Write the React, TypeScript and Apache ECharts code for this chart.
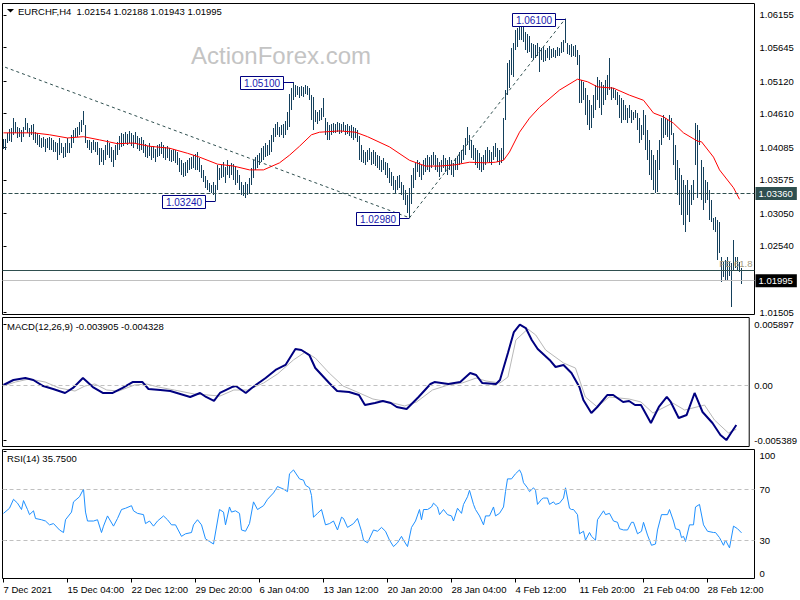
import React, { useEffect, useRef } from 'react';
import * as echarts from 'echarts';

const FONT = '"Liberation Sans", Arial, sans-serif';
const BAR = '#14405c';

const xLabels = ['7 Dec 2021', '15 Dec 04:00', '22 Dec 12:00', '29 Dec 20:00', '6 Jan 04:00', '13 Jan 12:00', '20 Jan 20:00', '28 Jan 04:00', '4 Feb 12:00', '11 Feb 20:00', '21 Feb 04:00', '28 Feb 12:00'];
const barsPerLabel = 32;
const priceTicks = [1.06155, 1.05645, 1.0512, 1.0461, 1.04085, 1.03575, 1.0305, 1.0254, 1.01505];
const macdTicks = [-0.005389, 0, 0.005897];
const rsiTicks = [0, 30, 70, 100];

const highs = [
  1.0421,1.0421,1.0431,1.0437,1.0439,1.0454,1.0448,1.0440,1.0439,1.0435,
  1.0440,1.0454,1.0446,1.0439,1.0443,1.0445,1.0432,1.0431,1.0428,1.0423,
  1.0425,1.0421,1.0423,1.0425,1.0423,1.0420,1.0417,1.0415,1.0423,1.0415,
  1.0409,1.0415,1.0423,1.0415,1.0428,1.0435,1.0439,1.0440,1.0448,1.0451,
  1.0465,1.0443,1.0420,1.0420,1.0417,1.0420,1.0417,1.0417,1.0407,
  1.0407,1.0404,1.0412,1.0420,1.0415,1.0409,1.0404,1.0412,1.0417,1.0426,
  1.0431,1.0429,1.0432,1.0429,1.0434,1.0431,1.0428,1.0432,1.0426,1.0423,
  1.0425,1.0420,1.0414,1.0410,1.0415,1.0409,1.0410,1.0406,1.0412,1.0414,
  1.0417,1.0412,1.0409,1.0410,1.0407,1.0404,1.0406,1.0404,1.0401,1.0392,
  1.0388,1.0384,1.0385,1.0388,1.0392,1.0393,1.0396,1.0398,1.0401,1.0392,
  1.0381,1.0373,1.0363,1.0357,1.0352,1.0349,1.0354,1.0349,1.0381,1.0376,
  1.0381,1.0385,1.0378,1.0388,1.0381,1.0384,1.0382,1.0379,1.0373,1.0365,
  1.0354,1.0349,1.0354,1.0351,1.0360,1.0376,1.0388,1.0393,1.0396,1.0399,
  1.0407,1.0410,1.0415,1.0412,1.0420,1.0428,1.0439,1.0445,1.0448,1.0440,
  1.0443,1.0445,1.0450,1.0464,1.0492,1.0501,1.0510,1.0506,1.0504,1.0503,
  1.0504,1.0503,1.0506,1.0504,1.0501,1.0490,1.0487,1.0467,1.0464,1.0467,
  1.0470,1.0486,1.0454,1.0448,1.0443,1.0445,1.0446,1.0445,1.0448,1.0446,
  1.0445,1.0448,1.0443,1.0445,1.0442,1.0443,1.0440,1.0439,1.0435,1.0426,
  1.0412,1.0404,1.0401,1.0404,1.0407,1.0401,1.0404,1.0401,1.0396,1.0395,
  1.0388,1.0392,1.0385,1.0384,1.0376,1.0370,1.0363,1.0357,1.0363,1.0365,
  1.0354,1.0349,1.0342,1.0334,1.0345,1.0365,1.0376,1.0384,1.0388,1.0385,
  1.0381,1.0388,1.0392,1.0396,1.0393,1.0396,1.0401,1.0396,1.0392,1.0385,
  1.0388,1.0396,1.0392,1.0388,1.0393,1.0388,1.0384,1.0392,1.0395,1.0401,
  1.0404,1.0412,1.0423,1.0440,1.0428,1.0420,1.0412,1.0407,1.0404,1.0399,
  1.0393,1.0396,1.0404,1.0409,1.0404,1.0401,1.0410,1.0415,1.0407,1.0404,
  1.0407,1.0454,1.0498,1.0540,1.0545,1.0564,1.0572,1.0592,1.0595,1.0598,
  1.0601,1.0603,1.0589,1.0586,1.0583,1.0572,1.0570,1.0569,1.0572,1.0565,
  1.0564,1.0565,1.0561,1.0564,1.0567,1.0562,1.0564,1.0561,1.0565,1.0564,
  1.0573,1.0576,1.0610,1.0572,1.0569,1.0570,1.0567,1.0569,1.0561,1.0553,
  1.0514,1.0511,1.0501,1.0490,1.0482,1.0475,1.0490,1.0506,1.0518,1.0514,
  1.0511,1.0506,1.0514,1.0522,1.0548,1.0503,1.0501,1.0498,1.0495,1.0490,
  1.0486,1.0482,1.0475,1.0470,1.0475,1.0467,1.0464,1.0467,1.0462,1.0454,
  1.0443,1.0467,1.0459,1.0435,1.0420,1.0404,1.0396,1.0388,1.0404,1.0420,
  1.0454,1.0459,1.0454,1.0451,1.0459,1.0454,1.0431,1.0412,1.0388,1.0376,
  1.0365,1.0357,1.0349,1.0357,1.0341,1.0349,1.0357,1.0446,1.0443,1.0435,
  1.0388,1.0377,1.0357,1.0354,1.0341,1.0326,1.0298,1.0299,1.0295,1.0291,
  1.0237,1.0229,1.0232,1.0237,1.0229,1.0227,1.0263,1.0237,1.0237,1.0229,1.02188,
];

const lows = [
  1.0406,1.0404,1.0415,1.0418,1.0417,1.0428,1.0431,1.0423,1.0425,1.0417,
  1.0425,1.0435,1.0431,1.0425,1.0428,1.0420,1.0415,1.0412,1.0409,1.0407,
  1.0409,1.0401,1.0407,1.0404,1.0404,1.0401,1.0401,1.0388,1.0396,1.0399,
  1.0392,1.0393,1.0399,1.0399,1.0407,1.0415,1.0425,1.0425,1.0428,1.0432,
  1.0443,1.0415,1.0407,1.0404,1.0399,1.0404,1.0401,1.0396,1.0381,
  1.0385,1.0381,1.0388,1.0396,1.0392,1.0385,1.0378,1.0388,1.0396,1.0404,
  1.0409,1.0410,1.0415,1.0412,1.0415,1.0410,1.0407,1.0414,1.0406,1.0403,
  1.0404,1.0399,1.0393,1.0392,1.0395,1.0388,1.0392,1.0385,1.0393,1.0395,
  1.0398,1.0392,1.0388,1.0392,1.0387,1.0385,1.0387,1.0384,1.0381,1.0370,
  1.0365,1.0362,1.0363,1.0368,1.0373,1.0374,1.0376,1.0373,1.0373,1.0370,
  1.0360,1.0354,1.0345,1.0342,1.0338,1.0337,1.0334,1.0324,1.0342,1.0357,
  1.0360,1.0362,1.0352,1.0365,1.0360,1.0365,1.0357,1.0349,1.0352,1.0342,
  1.0334,1.0332,1.0329,1.0334,1.0337,1.0349,1.0360,1.0373,1.0376,1.0381,
  1.0385,1.0388,1.0393,1.0395,1.0396,1.0401,1.0417,1.0425,1.0428,1.0425,
  1.0428,1.0423,1.0428,1.0435,1.0440,1.0467,1.0482,1.0487,1.0490,1.0486,
  1.0489,1.0487,1.0492,1.0490,1.0482,1.0451,1.0435,1.0448,1.0445,1.0450,
  1.0451,1.0456,1.0428,1.0420,1.0420,1.0428,1.0431,1.0431,1.0432,1.0429,
  1.0431,1.0434,1.0428,1.0429,1.0426,1.0423,1.0420,1.0423,1.0417,1.0388,
  1.0385,1.0384,1.0381,1.0385,1.0388,1.0381,1.0382,1.0379,1.0376,1.0373,
  1.0370,1.0373,1.0365,1.0360,1.0352,1.0348,1.0342,1.0337,1.0342,1.0345,
  1.0334,1.0326,1.0318,1.0305,1.0298,1.0320,1.0345,1.0357,1.0370,1.0362,
  1.0357,1.0365,1.0370,1.0373,1.0370,1.0376,1.0381,1.0373,1.0370,1.0362,
  1.0370,1.0376,1.0370,1.0365,1.0373,1.0365,1.0362,1.0373,1.0373,1.0381,
  1.0384,1.0388,1.0396,1.0412,1.0404,1.0392,1.0388,1.0381,1.0376,1.0373,
  1.0370,1.0373,1.0381,1.0385,1.0384,1.0381,1.0388,1.0393,1.0385,1.0381,
  1.0384,1.0388,1.0451,1.0490,1.0501,1.0522,1.0518,1.0561,1.0565,1.0576,
  1.0576,1.0573,1.0561,1.0556,1.0558,1.0548,1.0545,1.0548,1.0551,1.0526,
  1.0545,1.0542,1.0543,1.0548,1.0545,1.0548,1.0550,1.0548,1.0551,1.0551,
  1.0556,1.0558,1.0572,1.0554,1.0553,1.0550,1.0551,1.0550,1.0537,1.0478,
  1.0478,1.0482,1.0459,1.0443,1.0435,1.0439,1.0454,1.0467,1.0482,1.0470,
  1.0459,1.0475,1.0482,1.0490,1.0498,1.0482,1.0486,1.0482,1.0475,1.0454,
  1.0446,1.0451,1.0451,1.0446,1.0454,1.0446,1.0451,1.0454,1.0435,1.0415,
  1.0420,1.0428,1.0404,1.0388,1.0365,1.0357,1.0341,1.0337,1.0338,1.0373,
  1.0412,1.0423,1.0428,1.0425,1.0420,1.0428,1.0381,1.0357,1.0334,1.0318,
  1.0302,1.0287,1.0276,1.0302,1.0291,1.0318,1.0326,1.0381,1.0329,1.0412,
  1.0326,1.0310,1.0321,1.0326,1.0295,1.0291,1.0279,1.0276,1.0232,1.0243,
  1.0197,1.0205,1.0200,1.0200,1.0207,1.0158,1.0216,1.0219,1.0216,1.0213,1.01943,
];

// moving average: [bar index, price]
const maLine = [
  [0,1.0431],[15,1.0431],[23,1.0428],[32,1.0423],[40,1.0425],[48,1.0420],[57,1.0414],[65,1.0415],[73,1.0410],[83,1.0407],
  [92,1.0399],[98,1.0393],[107,1.0382],[115,1.0379],[123,1.0373],[130,1.0373],[138,1.0384],[143,1.0396],[148,1.0410],[154,1.0428],
  [158,1.0432],[168,1.0434],[176,1.0432],[182,1.0425],[193,1.0409],[203,1.0388],[211,1.0379],[218,1.0379],[226,1.0381],[233,1.0385],
  [241,1.0384],[246,1.0385],[250,1.0388],[253,1.0401],[258,1.0432],[263,1.0454],[268,1.0471],[278,1.0498],[287,1.0515],[292,1.0511],
  [297,1.0503],[305,1.0501],[313,1.0490],[320,1.0482],[325,1.0462],[330,1.0456],[335,1.0446],[340,1.0431],[347,1.0418],[349,1.0417],
  [355,1.0393],[358,1.0373],[365,1.0345],[368,1.0327],
];

const trendDown = [[-2, 1.0537], [203, 1.0298]];
const trendUp = [[203, 1.0298], [281, 1.061]];
const supportLevel = 1.0336;
const fe618Level = 1.0216;
const bidLevel = 1.01995;

const priceMarks: [number, number, string][] = [
  [145, 1.051, '1.05100'],
  [106, 1.0324, '1.03240'],
  [203, 1.0298, '1.02980'],
  [281, 1.061, '1.06100'],
];

const macdLine = [
  [0,0],[5,0.00049],[11,0.00068],[15,0.00049],[20,-0.0001],[25,-0.00039],[31,-0.00078],[35,-0.00029],[40,0.00068],[45,-0.0002],
  [50,-0.00078],[55,-0.00078],[60,-0.00029],[65,0.00029],[70,0.00029],[73,-0.00039],[79,-0.00049],[84,-0.00059],[89,-0.00088],[94,-0.00117],
  [99,-0.00078],[102,-0.00117],[106,-0.00156],[109,-0.00078],[115,-0.0002],[117,-0.0001],[122,-0.00078],[125,-0.00029],[132,0.00068],[137,0.00147],
  [142,0.00196],[147,0.00352],[150,0.00342],[154,0.00293],[157,0.00166],[164,0.0002],[168,-0.00059],[174,-0.00068],[179,-0.00098],[182,-0.00196],
  [187,-0.00176],[191,-0.00156],[195,-0.00176],[198,-0.00215],[203,-0.00235],[209,-0.00117],[215,0.0001],[217,0.00029],[224,0.0001],[230,0.00029],
  [235,0.00117],[238,0.00098],[241,0.0002],[248,0.0001],[250,0.00049],[254,0.00313],[257,0.00518],[260,0.005897],[263,0.00557],[266,0.0044],
  [269,0.00352],[275,0.00245],[278,0.00176],[282,0.00196],[286,0.00117],[290,-0.0002],[292,-0.00147],[296,-0.00274],[299,-0.00215],[304,-0.00098],
  [307,-0.00098],[312,-0.00166],[315,-0.00156],[318,-0.00196],[321,-0.00196],[326,-0.00372],[330,-0.00215],[334,-0.00117],[336,-0.00166],[340,-0.00323],
  [344,-0.00293],[348,-0.00078],[352,-0.00264],[357,-0.00372],[361,-0.00489],[364,-0.005389],[366,-0.00479],[369,-0.003905],
];

const signalLine = [
  [0,-0.0001],[6,0.00029],[13,0.00059],[21,0.00029],[28,-0.00029],[36,-0.00059],[41,-0.0001],[46,0.0001],[52,-0.00049],[58,-0.00059],
  [66,0],[72,0.0001],[78,-0.0002],[86,-0.00049],[96,-0.00088],[103,-0.00098],[109,-0.00108],[116,-0.00049],[123,-0.00049],[131,0.0002],
  [138,0.00108],[146,0.00245],[152,0.00323],[157,0.00264],[164,0.00117],[171,-0.0001],[178,-0.00068],[186,-0.00137],[194,-0.00166],[202,-0.00205],
  [208,-0.00166],[216,-0.00049],[224,0],[231,0.0002],[238,0.00068],[243,0.00039],[250,0.0002],[254,0.00078],[258,0.0044],[264,0.00548],
  [268,0.00489],[273,0.00342],[282,0.00215],[288,0.00166],[293,-0.00117],[299,-0.00215],[305,-0.00117],[315,-0.00137],[321,-0.00166],[327,-0.00274],
  [337,-0.00176],[343,-0.00245],[353,-0.00196],[358,-0.00342],[365,-0.00469],[369,-0.004328],
];

const rsiLine = [
  [0,51],[3,55],[5,62],[7,59],[9,54],[10,61],[12,54],[13,50],[15,53],[16,47],[19,46],[21,45],[23,42],[25,43],[28,38],[30,36],[31,46],[34,52],[35,60],[38,64],
  [40,70],[41,52],[42,45],[45,45],[47,46],[49,36],[50,41],[52,49],[55,41],[57,47],[59,54],[61,55],[64,57],[65,53],[67,51],[70,50],[71,43],[73,45],[75,41],[77,45],
  [80,49],[82,46],[84,42],[86,42],[89,33],[91,35],[94,36],[95,42],[97,46],[99,42],[101,31],[103,29],[105,27],[108,54],[110,52],[111,42],[113,56],[114,52],[116,53],[118,51],
  [119,38],[121,37],[123,43],[125,60],[127,54],[130,57],[132,62],[135,67],[137,72],[140,70],[142,68],[143,82],[145,85],[148,78],[150,77],[151,73],[153,71],[154,65],[155,48],[157,51],
  [159,54],[161,42],[163,43],[165,45],[167,38],[169,48],[170,47],[172,40],[175,43],[177,47],[179,37],[180,30],[182,28],[185,38],[187,37],[189,40],[191,37],[193,30],[195,25],[197,28],
  [199,33],[200,30],[202,25],[204,40],[206,45],[208,54],[209,46],[210,54],[212,54],[214,56],[215,59],[217,56],[218,50],[220,54],[222,50],[224,49],[225,45],[227,55],[229,51],[230,58],
  [232,64],[233,69],[235,58],[236,54],[238,49],[240,42],[241,49],[243,49],[245,56],[246,49],[248,51],[250,56],[251,68],[252,78],[254,78],[256,82],[258,85],[259,82],[260,75],[262,71],
  [263,68],[265,71],[266,69],[267,58],[269,62],[270,63],[272,63],[273,58],[275,60],[276,58],[278,59],[280,63],[281,71],[283,55],[284,54],[285,54],[287,50],[288,35],[290,37],[291,30],
  [293,36],[294,33],[296,30],[297,46],[300,53],[301,50],[303,51],[305,45],[307,44],[308,39],[310,38],[312,38],[314,44],[315,44],[317,35],[319,37],[320,44],[322,34],[324,26],[326,27],
  [327,38],[329,50],[332,50],[333,54],[335,45],[336,39],[338,38],[339,32],[340,33],[341,29],[343,42],[345,42],[346,56],[348,58],[350,42],[352,37],[355,36],[356,36],[358,32],[360,26],
  [361,30],[363,24],[365,41],[367,39],[369,35.75],
];

const X_MIN = -0.5;
const X_MAX = 375.5;
const GRID_LEFT = 2.5;
const GRID_W = 752;

function buildOption(): any {
  const txt = { fontFamily: FONT, fontSize: 9.5, color: '#000' };
  const xTicks = xLabels.map((_, k) => k * barsPerLabel);
  const hiddenX = (gi: number) => ({ type: 'value', gridIndex: gi, min: X_MIN, max: X_MAX, show: false });
  return {
    animation: false,
    backgroundColor: '#fff',
    grid: [
      { left: GRID_LEFT, top: 3.5, width: GRID_W, height: 311, show: true, borderColor: '#000', borderWidth: 1 },
      { left: GRID_LEFT, top: 317.5, width: GRID_W, height: 129, show: true, borderColor: '#000', borderWidth: 1 },
      { left: GRID_LEFT, top: 449.5, width: GRID_W, height: 129, show: true, borderColor: '#000', borderWidth: 1 },
    ],
    xAxis: [
      hiddenX(0),
      hiddenX(1),
      {
        type: 'value', gridIndex: 2, min: X_MIN, max: X_MAX,
        axisLine: { show: false }, splitLine: { show: false },
        axisTick: { show: true, length: 4, customValues: xTicks, lineStyle: { color: '#000' } },
        axisLabel: {
          ...txt, customValues: xTicks, align: 'left', margin: 6,
          formatter: (v: number) => xLabels[Math.round(v / barsPerLabel)] ?? '',
        },
      },
    ],
    yAxis: [
      {
        type: 'value', gridIndex: 0, position: 'right', min: 1.01466, max: 1.06335,
        axisLine: { show: false }, splitLine: { show: false },
        axisTick: { show: true, length: 3, customValues: priceTicks, lineStyle: { color: '#000' } },
        axisLabel: { ...txt, customValues: priceTicks, margin: 5, formatter: (v: number) => v.toFixed(5) },
      },
      {
        type: 'value', gridIndex: 1, position: 'right', min: -0.006014, max: 0.006601,
        axisLine: { show: false }, splitLine: { show: false },
        axisTick: { show: true, length: 3, customValues: macdTicks, lineStyle: { color: '#000' } },
        axisLabel: { ...txt, customValues: macdTicks, margin: 5, formatter: (v: number) => (v === 0 ? '0.00' : v.toFixed(6)) },
      },
      {
        type: 'value', gridIndex: 2, position: 'right', min: 0, max: 101,
        axisLine: { show: false }, splitLine: { show: false },
        axisTick: { show: true, length: 3, customValues: rsiTicks, lineStyle: { color: '#000' } },
        axisLabel: {
          ...txt, customValues: rsiTicks, margin: 5, formatter: (v: number) => String(v),
          verticalAlignMinLabel: 'bottom', verticalAlignMaxLabel: 'top',
        },
      },
    ],
    graphic: [
      { type: 'text', z: 0, x: 281, y: 55, style: { text: 'ActionForex.com', fill: '#c4c4c4', fontSize: 24, fontFamily: FONT, align: 'center', verticalAlign: 'middle' } },
      { type: 'polygon', z: 100, shape: { points: [[7, 9], [14, 9], [10.5, 12.5]] }, style: { fill: '#000' } },
      { type: 'text', z: 100, x: 18, y: 11, style: { text: 'EURCHF,H4  1.02154 1.02188 1.01943 1.01995', fill: '#000', fontSize: 9.5, fontFamily: FONT, align: 'left', verticalAlign: 'middle' } },
      { type: 'text', z: 100, x: 7, y: 326, style: { text: 'MACD(12,26,9) -0.003905 -0.004328', fill: '#000', fontSize: 9.5, fontFamily: FONT, align: 'left', verticalAlign: 'middle' } },
      { type: 'text', z: 100, x: 7, y: 458, style: { text: 'RSI(14) 35.7500', fill: '#000', fontSize: 9.5, fontFamily: FONT, align: 'left', verticalAlign: 'middle' } },
    ],
    series: [
      {
        type: 'custom', name: 'bars', xAxisIndex: 0, yAxisIndex: 0, z: 2, silent: true, clip: true,
        data: highs.map((h, i) => [i, h, lows[i]]),
        encode: { x: 0, y: [1, 2] },
        renderItem: (_p: any, api: any) => {
          const i = api.value(0);
          const top = api.coord([i, api.value(1)]);
          const bot = api.coord([i, api.value(2)]);
          const y0 = Math.round(top[1]);
          const y1 = Math.round(bot[1]);
          return { type: 'rect', shape: { x: Math.floor(top[0]), y: y0, width: 1, height: Math.max(1, y1 - y0) }, style: { fill: BAR } };
        },
      },
      {
        type: 'line', name: 'trendDown', xAxisIndex: 0, yAxisIndex: 0, z: 3, silent: true, showSymbol: false,
        data: trendDown, lineStyle: { color: '#2f4f4f', width: 1, type: [3, 3] },
      },
      {
        type: 'line', name: 'trendUp', xAxisIndex: 0, yAxisIndex: 0, z: 3, silent: true, showSymbol: false,
        data: trendUp, lineStyle: { color: '#2f4f4f', width: 1, type: [3, 3] },
      },
      {
        type: 'line', name: 'MA', xAxisIndex: 0, yAxisIndex: 0, z: 4, silent: true, showSymbol: false,
        data: maLine, lineStyle: { color: '#ff0000', width: 1 },
        markLine: {
          silent: true, symbol: ['none', 'none'], animation: false, precision: 5,
          data: [
            {
              yAxis: supportLevel, lineStyle: { color: '#2f4f4f', width: 1, type: [4, 2] },
              label: { show: true, position: 'end', distance: 1, formatter: '1.03360', color: '#fff', backgroundColor: '#2f4f4f', padding: [2, 4, 1, 3], fontSize: 9.5, fontFamily: FONT },
            },
            {
              yAxis: fe618Level, lineStyle: { color: '#2f4f4f', width: 1, type: 'solid' },
              label: { show: true, position: 'insideEndTop', distance: 2, formatter: 'FE 61.8', color: '#a39a7c', fontSize: 9.5, fontFamily: FONT },
            },
            {
              yAxis: bidLevel, lineStyle: { color: '#c0c0c0', width: 1, type: 'solid' },
              label: { show: true, position: 'end', distance: 1, formatter: '1.01995', color: '#fff', backgroundColor: '#000', padding: [2, 4, 1, 3], fontSize: 9.5, fontFamily: FONT },
            },
          ],
        },
      },
      {
        type: 'custom', name: 'marks', xAxisIndex: 0, yAxisIndex: 0, z: 10, silent: true, clip: false,
        data: priceMarks.map((m) => [m[0], m[1]]),
        renderItem: (params: any, api: any) => {
          const m = priceMarks[params.dataIndex];
          const p = api.coord([api.value(0), api.value(1)]);
          const bx = Math.floor(p[0]);
          const by = Math.round(p[1]);
          const right = bx - 10;
          const w = 43;
          const h = 13;
          return {
            type: 'group',
            children: [
              { type: 'line', shape: { x1: right, y1: by + 0.5, x2: bx + 0.5, y2: by + 0.5 }, style: { stroke: '#000080', lineWidth: 1 } },
              { type: 'rect', shape: { x: right - w + 0.5, y: by - 6 + 0.5, width: w, height: h }, style: { fill: '#fff', stroke: '#000080', lineWidth: 1 } },
              { type: 'text', style: { x: right - w / 2 + 0.5, y: by + 1, text: m[2], fill: '#1a1ab0', fontSize: 10, fontFamily: FONT, align: 'center', verticalAlign: 'middle' } },
            ],
          };
        },
      },
      {
        type: 'line', name: 'Signal', xAxisIndex: 1, yAxisIndex: 1, z: 3, silent: true, showSymbol: false,
        data: signalLine, lineStyle: { color: '#b8b8b8', width: 1 },
        markLine: {
          silent: true, symbol: ['none', 'none'], animation: false, label: { show: false }, precision: 6,
          data: [{ yAxis: 0 }], lineStyle: { color: '#c0c0c0', width: 1, type: [4, 3] },
        },
      },
      {
        type: 'line', name: 'MACD', xAxisIndex: 1, yAxisIndex: 1, z: 4, silent: true, showSymbol: false,
        data: macdLine, lineStyle: { color: '#000080', width: 2 },
      },
      {
        type: 'line', name: 'RSI', xAxisIndex: 2, yAxisIndex: 2, z: 4, silent: true, showSymbol: false,
        data: rsiLine, lineStyle: { color: '#1e90ff', width: 1 },
        markLine: {
          silent: true, symbol: ['none', 'none'], animation: false, label: { show: false },
          data: [{ yAxis: 70 }, { yAxis: 30 }], lineStyle: { color: '#c0c0c0', width: 1, type: [4, 3] },
        },
      },
    ],
  };
}

export default function App() {
  const ref = useRef<HTMLDivElement>(null);
  useEffect(() => {
    if (!ref.current) return;
    const chart = echarts.init(ref.current, null, { renderer: 'svg' });
    chart.setOption(buildOption());
    return () => chart.dispose();
  }, []);
  return <div ref={ref} style={{ position: 'absolute', left: 0, top: 0, width: 800, height: 600, background: '#fff' }} />;
}
